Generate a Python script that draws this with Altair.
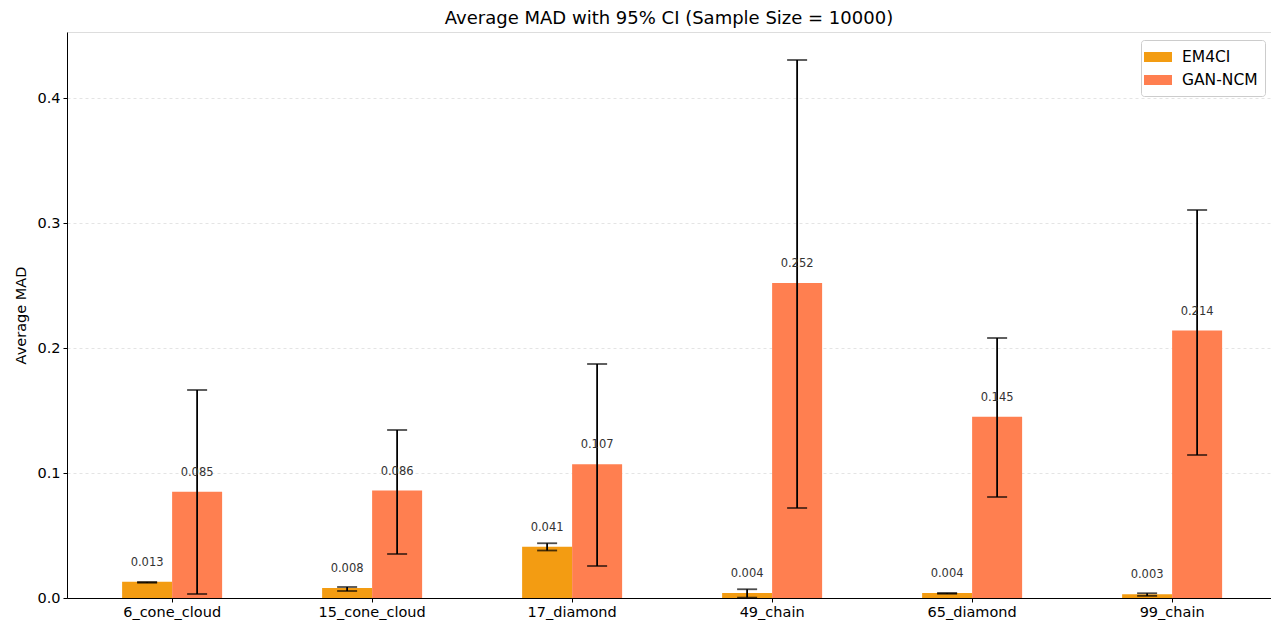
import altair as alt
import pandas as pd

categories = ["6_cone_cloud", "15_cone_cloud", "17_diamond", "49_chain", "65_diamond", "99_chain"]
models = ["EM4CI", "GAN-NCM"]
colors = ["#F39C12", "#FF7F50"]

em_mean = [0.013, 0.008, 0.041, 0.004, 0.004, 0.003]
em_lo = [0.0122, 0.0056, 0.0380, 0.0003, 0.0034, 0.0017]
em_hi = [0.0128, 0.0088, 0.0438, 0.0070, 0.0040, 0.0038]

gan_mean = [0.085, 0.086, 0.107, 0.252, 0.145, 0.214]
gan_lo = [0.0032, 0.0352, 0.0256, 0.0720, 0.0808, 0.1144]
gan_hi = [0.1664, 0.1344, 0.1872, 0.4304, 0.2080, 0.3104]

rows = []
for i, c in enumerate(categories):
    rows.append({"cat": c, "model": "EM4CI", "mean": em_mean[i], "lo": em_lo[i], "hi": em_hi[i]})
    rows.append({"cat": c, "model": "GAN-NCM", "mean": gan_mean[i], "lo": gan_lo[i], "hi": gan_hi[i]})
df = pd.DataFrame(rows)

FONT = "DejaVu Sans"

x = alt.X("cat:N", sort=categories, title=None,
          scale=alt.Scale(paddingInner=0.5, paddingOuter=0.26, align=0.53),
          axis=alt.Axis(labelAngle=0, labelFontSize=14.5, labelColor="black", labelFont=FONT,
                        tickColor="black", tickSize=4, domainColor="black", labelPadding=3))
xo = alt.XOffset("model:N", sort=models)
yscale = alt.Scale(domain=[0, 0.4528], nice=False, zero=True)

base = alt.Chart(df)

bars = base.mark_bar(size=50).encode(
    x=x, xOffset=xo,
    y=alt.Y("mean:Q", scale=yscale, title="Average MAD",
            axis=alt.Axis(values=[0, 0.1, 0.2, 0.3, 0.4], format=".1f", labelFontSize=14.5,
                          labelColor="black", labelFont=FONT, titleFont=FONT, titleFontSize=14.5,
                          titleFontWeight="normal", titleColor="black", tickColor="black",
                          tickSize=4, domainColor="black", grid=True, gridColor="#dddddd",
                          gridDash=[3, 3], gridWidth=0.8, titlePadding=8, labelPadding=3)),
    color=alt.Color("model:N", sort=models, scale=alt.Scale(domain=models, range=colors),
                    legend=alt.Legend(title=None, orient="none", legendX=1074, legendY=8,
                                      labelFont=FONT, labelFontSize=15.5, labelColor="black",
                                      symbolType="M-1.4,-0.5h2.8v1h-2.8z", symbolSize=400,
                                      symbolStrokeWidth=0, strokeColor="#cccccc",
                                      fillColor="white", padding=7, cornerRadius=3,
                                      rowPadding=4, labelOffset=14)),
)

rules = base.mark_rule(color="black", strokeWidth=1.8).encode(
    x=x, xOffset=xo, y=alt.Y("lo:Q", scale=yscale), y2="hi:Q")

caps_lo = base.mark_tick(color="black", size=20, thickness=1.8).encode(
    x=x, xOffset=xo, y=alt.Y("lo:Q", scale=yscale))
caps_hi = base.mark_tick(color="black", size=20, thickness=1.8).encode(
    x=x, xOffset=xo, y=alt.Y("hi:Q", scale=yscale))

labels = base.mark_text(dy=-19, fontSize=11.5, color="#333333", font=FONT).encode(
    x=x, xOffset=xo, y=alt.Y("mean:Q", scale=yscale),
    text=alt.Text("mean:Q", format=".3f"))

chart = alt.layer(bars, rules, caps_lo, caps_hi, labels).properties(
    width=1204, height=566,
    title=alt.TitleParams("Average MAD with 95% CI (Sample Size = 10000)", font=FONT,
                          fontSize=18, fontWeight="normal", color="black", offset=4),
    autosize=alt.AutoSizeParams(type="none"),
    padding={"left": 59, "top": 24, "right": 0, "bottom": 22},
).configure_view(stroke="black", strokeWidth=1).configure(background="white")

chart.save("out.html", embed_options={"renderer": "svg", "actions": False})
